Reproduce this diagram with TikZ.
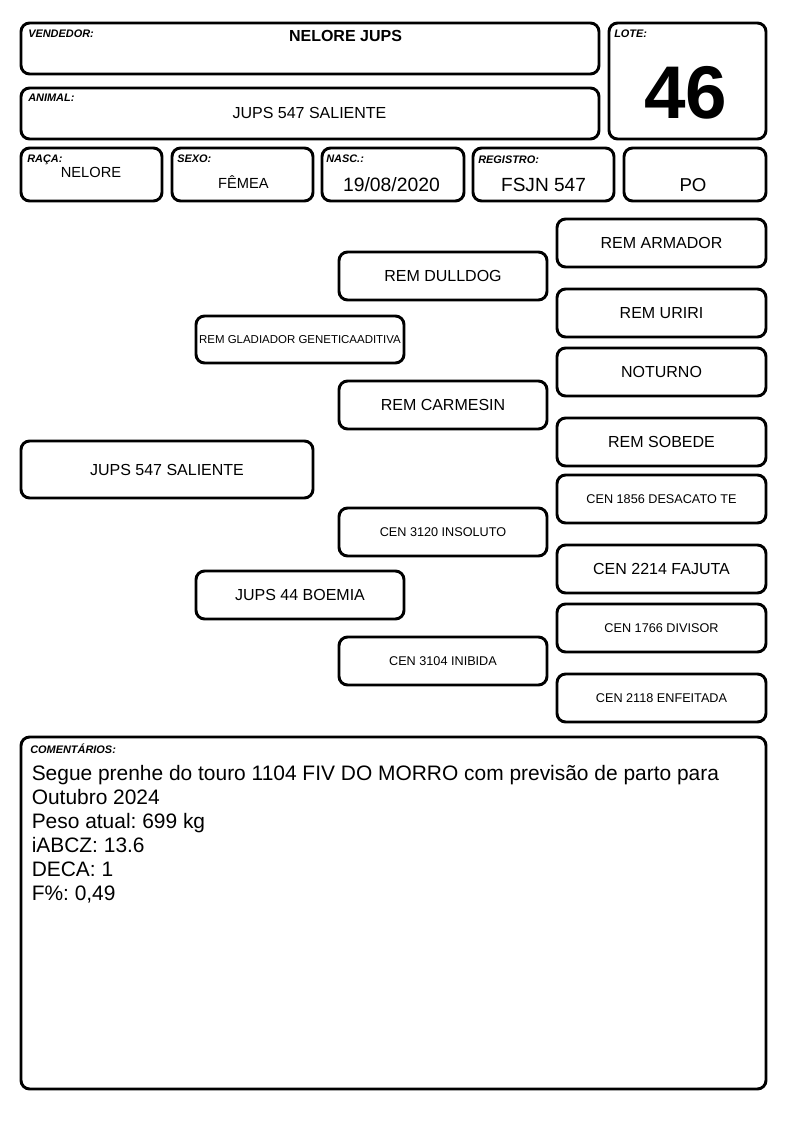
\documentclass[tikz,border=0pt]{standalone}
\usepackage{fontspec}
\setmainfont{Liberation Sans}
\frenchspacing
\begin{document}
\begin{tikzpicture}[x=0.75pt,y=-0.75pt,
  box/.style={draw=black,line width=2.2pt,rounded corners=6.5pt,fill=white,inner sep=0pt},
  bw/.style 2 args={box,minimum width=#1*0.75pt,minimum height=#2*0.75pt},
  lbl/.style={anchor=base west,inner sep=0pt,font=\fontsize{8.2pt}{9pt}\selectfont\bfseries\itshape},
  val/.style={anchor=base,inner sep=0pt,font=\fontsize{11pt}{13pt}\selectfont},
  cline/.style={anchor=base west,inner sep=0pt,font=\fontsize{15.7pt}{18pt}\selectfont},
  big/.style={font=\fontsize{12pt}{14pt}\selectfont},
  small/.style={font=\fontsize{9.5pt}{11pt}\selectfont},
  tiny/.style={font=\fontsize{8.6pt}{10pt}\selectfont}
]
\useasboundingbox (0,0) rectangle (794,1123);
% header boxes
\node[bw={578}{51}] (vend) at (310,48.5) {};
\node[bw={578}{51}] (anim) at (310,113.5) {};
\node[bw={157}{116}] (lote) at (687.5,81) {};
\node[bw={141}{53}] (raca) at (91.5,174.5) {};
\node[bw={141}{53}] (sexo) at (242.5,174.5) {};
\node[bw={142}{53}] (nasc) at (393,174.5) {};
\node[bw={141}{53}] (reg) at (543.5,174.5) {};
\node[bw={142}{53}] (po) at (695,174.5) {};
% labels
\node[lbl] (lvend) at (28,38) {VENDEDOR:};
\node[lbl] (lanim) at (28,102) {ANIMAL:};
\node[lbl] (llote) at (614,38) {LOTE:};
\node[lbl] (lraca) at (27,163) {RAÇA:};
\node[lbl] (lsexo) at (177,163) {SEXO:};
\node[lbl] (lnasc) at (326,163) {NASC.:};
\node[lbl] (lreg) at (478,164) {REGISTRO:};
% values
\node[val,font=\fontsize{12pt}{14pt}\selectfont\bfseries] (vvend) at (345.5,42) {NELORE JUPS};
\node[val,font=\fontsize{12pt}{14pt}\selectfont] (vanim) at (309.5,119) {JUPS 547 SALIENTE};
\node[val,font=\fontsize{56pt}{60pt}\selectfont\bfseries] (vlote) at (686,119) {46};
\node[val] (vraca) at (91,178) {NELORE};
\node[val] (vsexo) at (243.5,189) {FÊMEA};
\node[val,font=\fontsize{14.5pt}{16pt}\selectfont] (vnasc) at (391.5,192) {19/08/2020};
\node[val,font=\fontsize{14.3pt}{16pt}\selectfont] (vreg) at (543.5,192) {FSJN 547};
\node[val,font=\fontsize{14pt}{16pt}\selectfont] (vpo) at (693,192) {PO};
% pedigree
\node[bw={292}{57},big] (p0) at (167,469.5) {JUPS 547 SALIENTE};
\node[bw={208}{47},tiny] (p1) at (300,339.5) {REM GLADIADOR GENETICAADITIVA};
\node[bw={208}{48},big] (p2) at (300,595) {JUPS 44 BOEMIA};
\node[bw={208}{48},big] (p3) at (443,276) {REM DULLDOG};
\node[bw={208}{48},big] (p4) at (443,405) {REM CARMESIN};
\node[bw={208}{48},small] (p5) at (443,532) {CEN 3120 INSOLUTO};
\node[bw={208}{48},small] (p6) at (443,661) {CEN 3104 INIBIDA};
\node[bw={209}{48},big] (p7) at (661.5,243) {REM ARMADOR};
\node[bw={209}{48},big] (p8) at (661.5,313) {REM URIRI};
\node[bw={209}{48},big] (p9) at (661.5,372) {NOTURNO};
\node[bw={209}{48},big] (p10) at (661.5,442) {REM SOBEDE};
\node[bw={209}{48},small] (p11) at (661.5,499) {CEN 1856 DESACATO TE};
\node[bw={209}{48},big] (p12) at (661.5,569) {CEN 2214 FAJUTA};
\node[bw={209}{48},small] (p13) at (661.5,628) {CEN 1766 DIVISOR};
\node[bw={209}{48},small] (p14) at (661.5,698) {CEN 2118 ENFEITADA};
% comments
\node[bw={745}{352}] (com) at (393.5,913) {};
\node[lbl] (lcom) at (30,753) {COMENTÁRIOS:};
\node[cline] (c1) at (31.5,780) {Segue prenhe do touro 1104 FIV DO MORRO com previsão de parto para};
\node[cline] (c2) at (31.5,804) {Outubro 2024};
\node[cline] (c3) at (31.5,828) {Peso atual: 699 kg};
\node[cline] (c4) at (31.5,852) {iABCZ: 13.6};
\node[cline] (c5) at (31.5,876) {DECA: 1};
\node[cline] (c6) at (31.5,900) {F\%: 0,49};
\end{tikzpicture}
\end{document}
